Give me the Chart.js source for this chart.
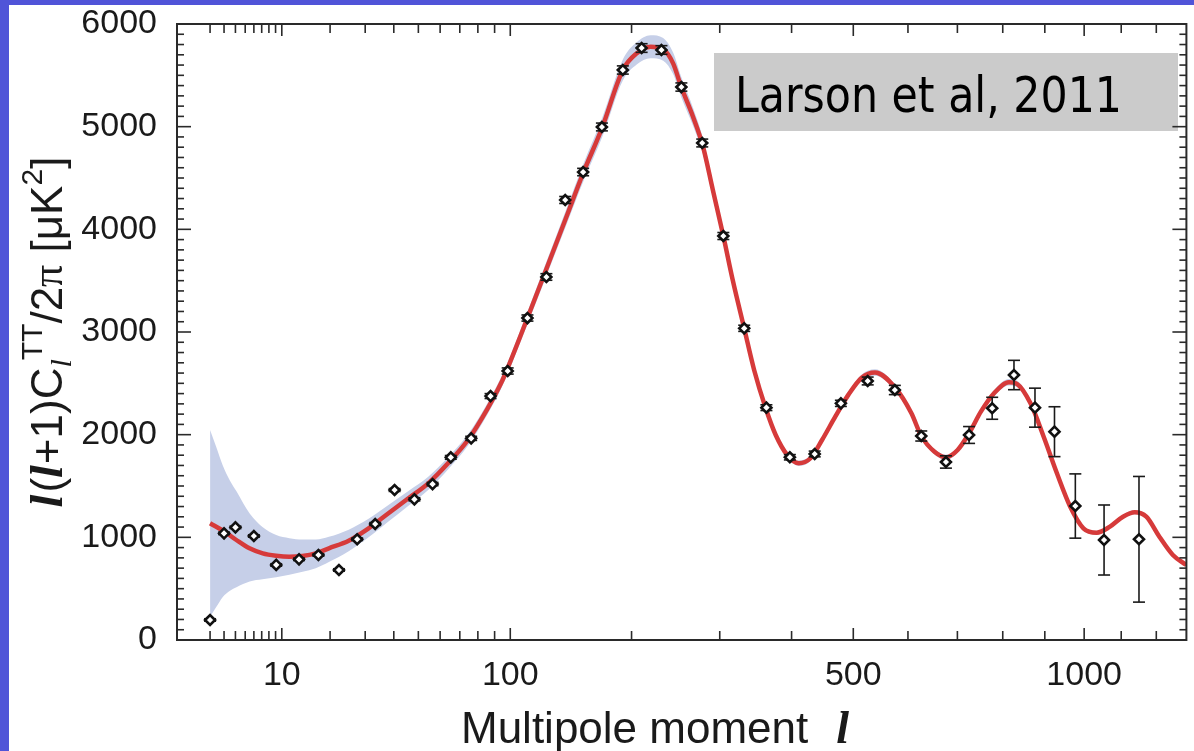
<!DOCTYPE html>
<html>
<head>
<meta charset="utf-8">
<script src="https://cdn.jsdelivr.net/npm/chart.js@4.4.1/dist/chart.umd.min.js"></script>
<style>
  html, body { margin: 0; padding: 0; background: #5054d8; overflow: hidden; }
  #wrap { position: absolute; left: 9px; top: 5px; width: 1185px; height: 746px; background: #fff; }
</style>
</head>
<body>
<div id="wrap"><canvas id="cmbChart" width="1185" height="746"></canvas></div>
<script>

/*DATA*/
// binned points: multipole, value, half error bar
var pointL = [2, 3, 4, 6, 9.1, 13.1, 17.2, 22.3, 27.5, 33.3, 40.3, 48.3, 56.4, 65.3, 76.2,
  87.5, 98.3, 111.7, 125.5, 140.2, 155.1, 171.7, 191.4, 210.2, 231.2, 253.5, 278.2, 304.6, 332.1, 363,
  397.4, 435.9, 478.8, 525.3, 575, 626, 676, 725, 776, 826, 876, 924, 977, 1053, 1150];
var pointV = [195, 1039, 1097, 1013, 731, 786, 828, 682, 981, 1130, 1461, 1370, 1519, 1779, 1964,
  2376, 2620, 3136, 3536, 4286, 4558, 4997, 5552, 5766, 5747, 5386, 4841, 3935, 3036, 2263,
  1780, 1812, 2305, 2523, 2435, 1987, 1734, 1997, 2257, 2581, 2263, 2029, 1305, 974, 981];
var pointErr = [12, 12, 12, 12, 12, 12, 12, 12, 12, 14, 14, 15, 16, 18, 20,
  24, 30, 30, 32, 34, 36, 38, 40, 42, 42, 40, 38, 34, 30, 28,
  26, 28, 30, 38, 45, 49, 60, 82, 107, 143, 190, 243, 313, 341, 612];

// best fit model curve
var curveL = [2, 3.05, 4.09, 5.48, 7.14, 9.07, 11.27, 13.77, 16.6, 19.7, 25, 31.1, 38, 45.8, 54.4,
  63.9, 74.4, 85.8, 94, 98.3, 111.7, 125.5, 140.2, 155.6, 171.9, 191.4, 205.2, 219.5, 233.1, 244.1,
  253.5, 267.1, 279, 291.3, 304.6, 316.8, 332.1, 345.7, 362, 376.4, 393.5, 411, 429.1, 447.7, 469.4,
  491.7, 514.7, 538.3, 575, 606.7, 626, 652.6, 676, 700.5, 725, 750.8, 780.2, 814.4, 833.6, 865.2,
  897.2, 930.1, 963.9, 998.1, 1033, 1069, 1105, 1138, 1171, 1209, 1249, 1290];
var curveV = [1137, 1055, 974, 893, 844, 821, 811, 818, 844, 893, 967, 1088, 1234, 1380, 1526,
  1721, 1948, 2257, 2500, 2649, 3136, 3614, 4091, 4561, 4990, 5552, 5714, 5779, 5753, 5617,
  5383, 5097, 4811, 4383, 3935, 3506, 3036, 2630, 2257, 1997, 1802, 1721, 1770, 1948, 2175,
  2390, 2555, 2605, 2461, 2208, 1987, 1834, 1780, 1851, 2013, 2224, 2403, 2510, 2493, 2305,
  1980, 1624, 1298, 1088, 1045, 1104, 1201, 1244, 1201, 1006, 828, 730];

// cosmic variance band
var bandL = [2, 2.4, 2.9, 3.5, 4.1, 5.5, 7.1, 9.1, 11.3, 13.8, 16.6, 19.7,
  25, 31.1, 38, 45.8, 54.4, 63.9, 74.4, 85.8, 94, 98.3, 111.7, 125.5, 140.2, 155.6, 171.9, 191.4,
  205.2, 219.5, 233.1, 244.1, 253.5, 267.1, 279, 291.3, 304.6, 316.8, 332.1, 345.7, 362, 376.4,
  393.5, 411, 429.1, 447.7, 469.4, 491.7, 514.7, 538.3, 575, 606.7, 626, 652.6, 676, 700.5, 725,
  750.8, 780.2, 814.4, 833.6, 865.2, 897.2, 930.1, 963.9, 998.1, 1033, 1069, 1105, 1138, 1171,
  1209, 1249, 1290];
var bandHi = [2045, 1885, 1700, 1552, 1450, 1232, 1101, 1022, 992, 978, 978, 1005,
  1075, 1180, 1314, 1452, 1591, 1781, 2005, 2312, 2556, 2706, 3198, 3684, 4169, 4647, 5084, 5654,
  5822, 5891, 5863, 5722, 5481, 5185, 4889, 4451, 3993, 3556, 3080, 2668, 2291, 2027,
  1830, 1748, 1797, 1976, 2205, 2421, 2587, 2637, 2492, 2237, 2014, 1860, 1805, 1877, 2040,
  2253, 2433, 2541, 2524, 2334, 2007, 1648, 1319, 1107, 1064, 1123, 1221, 1264, 1221,
  1025, 845, 746];
var bandLo = [227, 318, 420, 480, 515, 570, 591, 612, 636, 665, 700, 760,
  865, 1000, 1154, 1308, 1461, 1661, 1891, 2202, 2444, 2592, 3074, 3544, 4013, 4475, 4896, 5450,
  5606, 5667, 5643, 5512, 5285, 5009, 4733, 4315, 3877, 3456, 2992, 2592, 2223, 1967,
  1774, 1694, 1743, 1920, 2145, 2359, 2523, 2573, 2430, 2179, 1960, 1808, 1755, 1825, 1986,
  2195, 2373, 2479, 2462, 2276, 1953, 1600, 1277, 1069, 1026, 1085, 1181, 1224, 1181,
  987, 811, 714];

var xMajorTicks = [10, 100, 500, 1000];
var xMinorTicks = [2, 3, 4, 5, 6, 7, 8, 9, 20, 30, 40, 50, 60, 70, 80, 90, 200, 300, 400, 600, 700, 800, 900, 1100, 1200];
var yTickStep = 1000;
var yMinorStep = 100;
var legendText = "Larson et al, 2011";
/*DATA*/

var POWER = 0.4;
var SANS = '"Liberation Sans", Arial, Helvetica, sans-serif';
var SERIF = '"Liberation Serif", "Times New Roman", serif';

/*X SCALE: l^0.4 spacing*/
class PowerScale extends Chart.Scale {
  determineDataLimits() {
    this.min = this.options.min;
    this.max = this.options.max;
  }
  buildTicks() {
    return xMajorTicks.map(function (v) { return { value: v }; });
  }
  getLabelForValue(v) {
    return String(v);
  }
  configure() {
    super.configure();
    this._lo = Math.pow(this.min, POWER);
    this._hi = Math.pow(this.max, POWER);
  }
  getPixelForValue(v) {
    return this.getPixelForDecimal((Math.pow(v, POWER) - this._lo) / (this._hi - this._lo));
  }
  getValueForPixel(p) {
    return Math.pow(this._lo + this.getDecimalForPixel(p) * (this._hi - this._lo), 1 / POWER);
  }
}
PowerScale.id = 'power';
PowerScale.defaults = {};
Chart.register(PowerScale);

function toXY(xs, ys) {
  var out = [];
  for (var i = 0; i < xs.length; i++) out.push({ x: xs[i], y: ys[i] });
  return out;
}

function strokeLine(ctx, x1, y1, x2, y2) {
  ctx.beginPath();
  ctx.moveTo(x1, y1);
  ctx.lineTo(x2, y2);
  ctx.stroke();
}

function drawPieces(ctx, parts, x0, y0) {
  var x = x0;
  for (var i = 0; i < parts.length; i++) {
    var p = parts[i];
    ctx.font = p.f;
    x += (p.dx || 0);
    ctx.fillText(p.t, x, y0 + (p.dy || 0));
    x += ctx.measureText(p.t).width;
  }
}

function piecesWidth(ctx, parts) {
  var w = 0;
  for (var i = 0; i < parts.length; i++) {
    ctx.font = parts[i].f;
    w += ctx.measureText(parts[i].t).width + (parts[i].dx || 0);
  }
  return w;
}

/*ERROR BARS, FRAME, TICKS, TEXT*/
var decorPlugin = {
  id: 'decor',
  beforeDatasetDraw: function (chart, args) {
    if (args.index !== 3) return;
    var xs = chart.scales.x, ys = chart.scales.y, ctx = chart.ctx;
    ctx.save();
    ctx.strokeStyle = '#1a1a1a';
    ctx.lineWidth = 1.6;
    for (var i = 0; i < pointL.length; i++) {
      var px = xs.getPixelForValue(pointL[i]);
      var top = ys.getPixelForValue(pointV[i] + pointErr[i]);
      var bot = ys.getPixelForValue(pointV[i] - pointErr[i]);
      strokeLine(ctx, px, top, px, bot);
      strokeLine(ctx, px - 6, top, px + 6, top);
      strokeLine(ctx, px - 6, bot, px + 6, bot);
    }
    ctx.restore();
  },
  afterDraw: function (chart) {
    var ctx = chart.ctx, a = chart.chartArea;
    var xs = chart.scales.x, ys = chart.scales.y;
    ctx.save();

    // legend box
    ctx.fillStyle = '#cbcbcb';
    ctx.fillRect(705, 48, 464, 78);
    ctx.fillStyle = '#000';
    ctx.font = '50px "Comic Sans MS", "DejaVu Sans", sans-serif';
    var lw = ctx.measureText(legendText).width;
    ctx.save();
    ctx.translate(726, 107);
    ctx.scale(387 / lw, 1);
    ctx.textBaseline = 'alphabetic';
    ctx.fillText(legendText, 0, 0);
    ctx.restore();

    // frame
    ctx.strokeStyle = '#2a2a2a';
    ctx.lineWidth = 2;
    ctx.strokeRect(a.left, a.top, a.right - a.left, a.bottom - a.top);

    // inward ticks
    ctx.lineWidth = 1.6;
    xMinorTicks.forEach(function (v) {
      var px = xs.getPixelForValue(v);
      strokeLine(ctx, px, a.bottom, px, a.bottom - 9);
      strokeLine(ctx, px, a.top, px, a.top + 9);
    });
    xMajorTicks.forEach(function (v) {
      var px = xs.getPixelForValue(v);
      strokeLine(ctx, px, a.bottom, px, a.bottom - 12);
      strokeLine(ctx, px, a.top, px, a.top + 12);
    });
    for (var v = yMinorStep; v < ys.max; v += yMinorStep) {
      var py = ys.getPixelForValue(v);
      var len = (v % yTickStep === 0) ? 14 : 7;
      strokeLine(ctx, a.left, py, a.left + len, py);
      strokeLine(ctx, a.right, py, a.right - len, py);
    }

    // x title
    ctx.fillStyle = '#1a1a1a';
    ctx.textBaseline = 'alphabetic';
    ctx.textAlign = 'left';
    drawPieces(ctx, [
      { t: 'Multipole moment', f: '44px ' + SANS },
      { t: 'l', f: 'italic bold 46px ' + SERIF, dx: 28 }
    ], 452, 738);

    // y title
    var yParts = [
      { t: 'l', f: 'italic bold 46px ' + SERIF },
      { t: '(', f: '44px ' + SANS, dx: 2 },
      { t: 'l', f: 'italic bold 46px ' + SERIF },
      { t: '+1)C', f: '44px ' + SANS, dx: 1 },
      { t: 'l', f: 'italic 30px ' + SERIF, dy: 9 },
      { t: 'TT', f: '30px ' + SANS, dy: -20, dx: -1 },
      { t: '/2', f: '44px ' + SANS },
      { t: '\u03c0', f: '44px ' + SERIF },
      { t: ' [\u03bcK', f: '44px ' + SANS },
      { t: '2', f: '30px ' + SANS, dy: -20 },
      { t: ']', f: '44px ' + SANS }
    ];
    var tw = piecesWidth(ctx, yParts);
    ctx.save();
    ctx.translate(53, (a.top + a.bottom) / 2);
    ctx.rotate(-Math.PI / 2);
    drawPieces(ctx, yParts, -tw / 2, 0);
    ctx.restore();

    ctx.restore();
  }
};

var ctx = document.getElementById('cmbChart');
var cmbChart = new Chart(ctx, {
  type: 'line',
  data: {
    datasets: [{
      data: toXY(bandL, bandHi),
      borderColor: 'rgba(0,0,0,0)',
      backgroundColor: '#c6cfe8',
      pointRadius: 0,
      fill: '+1',
      cubicInterpolationMode: 'monotone',
      order: 2
    }, {
      data: toXY(bandL, bandLo),
      borderColor: 'rgba(0,0,0,0)',
      pointRadius: 0,
      fill: false,
      cubicInterpolationMode: 'monotone',
      order: 3
    }, {
      data: toXY(curveL, curveV),
      borderColor: '#d63a3a',
      borderWidth: 4.5,
      pointRadius: 0,
      fill: false,
      cubicInterpolationMode: 'monotone',
      order: 1
    }, {
      data: toXY(pointL, pointV),
      showLine: false,
      pointStyle: 'rectRot',
      pointRadius: 5,
      pointBorderWidth: 2.6,
      pointBorderColor: '#111',
      pointBackgroundColor: '#fff',
      order: 0
    }]
  },
  options: {
    responsive: false,
    animation: false,
    devicePixelRatio: 1,
    layout: { padding: { top: 19, right: 1, left: 0, bottom: 0 } },
    plugins: {
      legend: { display: false },
      tooltip: { enabled: false }
    },
    scales: {
      x: {
        type: 'power',
        min: 0.52,
        max: 1290,
        grid: { display: false, drawTicks: false },
        border: { display: false },
        ticks: {
          autoSkip: false,
          maxRotation: 0,
          padding: 15,
          color: '#1a1a1a',
          font: { family: SANS, size: 34 },
          callback: function (v) { return String(v); }
        },
        afterFit: function (s) {
          s.height = 111;
          s.paddingLeft = 0;
          s.paddingRight = 0;
        }
      },
      y: {
        type: 'linear',
        min: 0,
        max: 6000,
        grid: { display: false, drawTicks: false },
        border: { display: false },
        ticks: {
          stepSize: yTickStep,
          padding: 20,
          color: '#1a1a1a',
          font: { family: SANS, size: 34 },
          callback: function (v) { return String(v); }
        },
        afterFit: function (s) {
          s.width = 168;
          s.paddingTop = 0;
          s.paddingBottom = 0;
        }
      }
    }
  },
  plugins: [decorPlugin]
});
</script>
</body>
</html>
